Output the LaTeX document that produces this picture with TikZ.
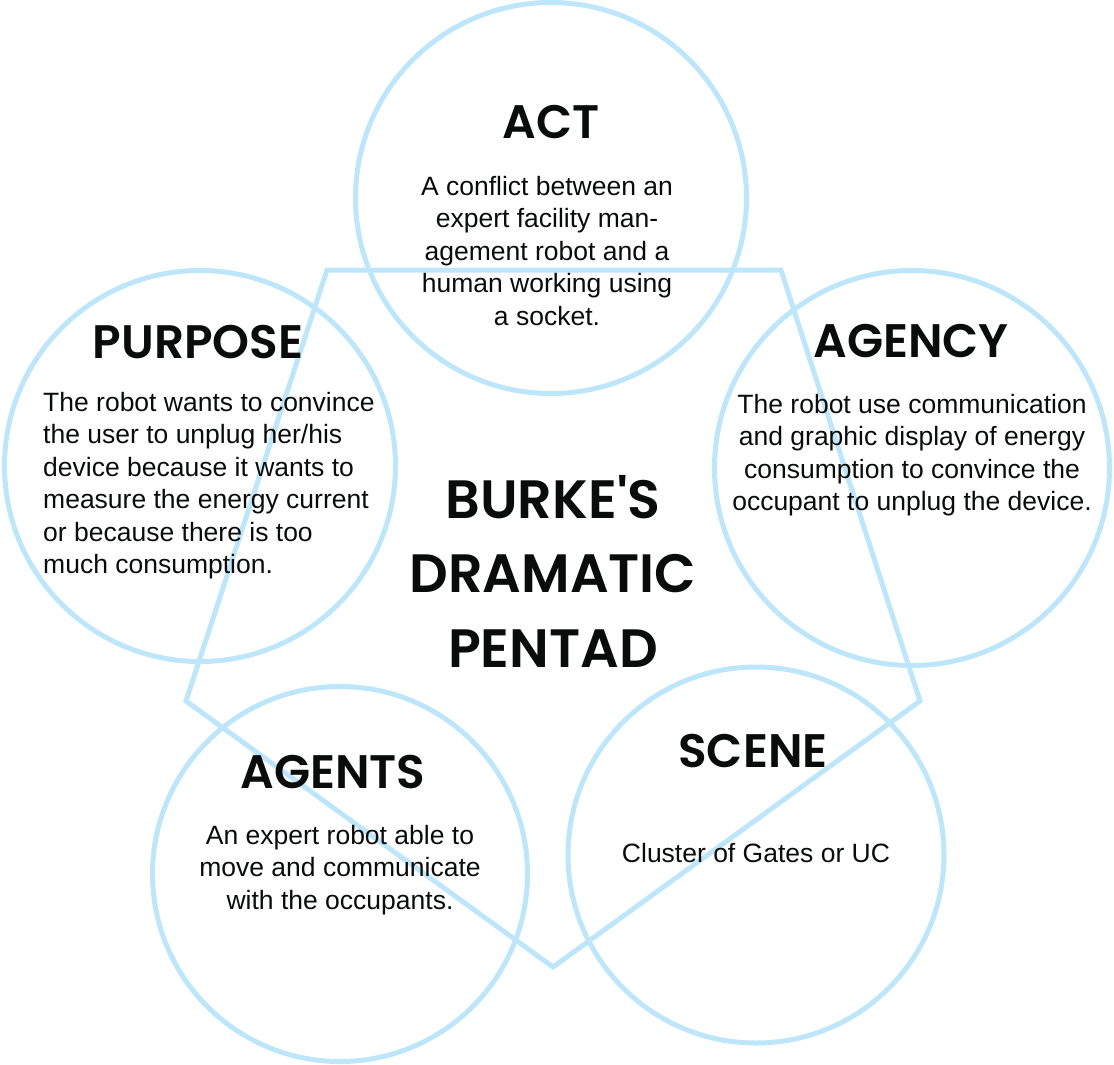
\documentclass[tikz,border=0pt]{standalone}
\usepackage{fontspec}
\setmainfont{Liberation Sans}
\newfontfamily\titlefont{Poppins}[UprightFont={* SemiBold}]
\usetikzlibrary{positioning}
\definecolor{sky}{HTML}{BDE6FA}
\definecolor{ink}{HTML}{0A0C0C}
\tikzset{ring/.style={draw=sky,line width=5pt,circle,inner sep=0pt},
         edge/.style={draw=sky,line width=5pt,line join=miter},
         head/.style={font=\titlefont\fontsize{47}{50}\selectfont,text=ink,anchor=base,inner sep=0pt},
         body/.style={font=\fontsize{26.5}{32.4}\selectfont,text=ink,align=center,anchor=north,inner sep=0pt},
         bigtitle/.style={font=\titlefont\fontsize{54}{74.5}\selectfont,text=ink,align=center,anchor=north,inner sep=0pt}}

\begin{document}
\begin{tikzpicture}[x=1pt,y=-1pt]
 \useasboundingbox (0,0) rectangle (1114,1065);
 % the five circles
 \node[ring,minimum size=391pt] (act) at (551,198) {};
 \node[ring,minimum size=391pt] (purpose) at (200,466) {};
 \node[ring,minimum size=395pt] (agency) at (912,468) {};
 \node[ring,minimum size=375pt] (agents) at (340,874) {};
 \node[ring,minimum size=376pt] (scene) at (756,855) {};
 % pentagon
 \coordinate (pa) at (327,270);
 \coordinate (pb) at (781,270);
 \coordinate (pc) at (920,701);
 \coordinate (pd) at (553,967);
 \coordinate (pe) at (186,701);
 \draw[edge] (pa) -- (pb) -- (pc) -- (pd) -- (pe) -- cycle;
 % headings
 \node[head] (tact) at (551,138) {ACT};
 \node[head] (tpurpose) at (198,358) {PURPOSE};
 \node[head] (tagency) at (911,357) {AGENCY};
 \node[head] (tagents) at (333,788) {AGENTS};
 \node[head] (tscene) at (753,767) {SCENE};
 % texts
 \node[body] (bact) at (547,176) {A conflict between an\\expert facility man-\\agement robot and a\\human working using\\a socket.};
 \node[body,align=left,anchor=north west] (bpurpose) at (43,392) {The robot wants to convince\\the user to unplug her/his\\device because it wants to\\measure the energy current\\or because there is too\\much consumption.};
 \node[body] (bagency) at (912,394) {The robot use communication\\and graphic display of energy\\consumption to convince the\\occupant to unplug the device.};
 \node[body] (bagents) at (340,825) {An expert robot able to\\move and communicate\\with the occupants.};
 \node[body,anchor=base] (bscene) at (756,862) {Cluster of Gates or UC};
 \node[bigtitle] (pentad) at (553,475) {BURKE'S\\DRAMATIC\\PENTAD};
\end{tikzpicture}
\end{document}
